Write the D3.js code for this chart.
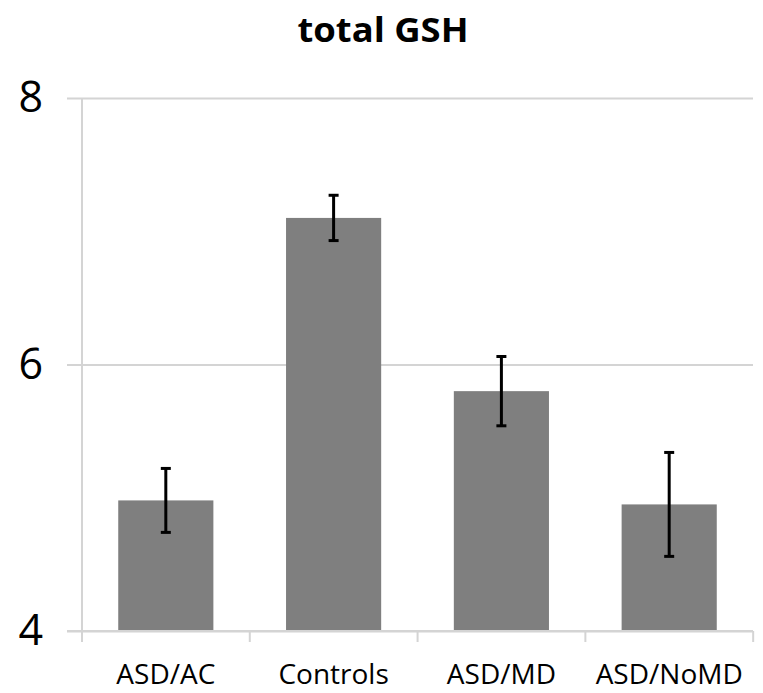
<!DOCTYPE html>
<html>
<head>
<meta charset="utf-8">
<script src="https://cdn.jsdelivr.net/npm/d3@7"></script>
<style>
  body { margin: 0; background: #fff; }
  svg { display: block; }
</style>
</head>
<body>
<svg id="chart" width="763" height="693"></svg>
<script>
// data
let groups = ['ASD/AC', 'Controls', 'ASD/MD', 'ASD/NoMD'];
let means = [4.98, 7.10, 5.80, 4.95];
let errs = [0.24, 0.17, 0.26, 0.39];
let yTicks = [4, 6, 8];

let svg = d3.select('#chart');
let font = '"Open Sans", sans-serif';

let xScale = d3.scaleBand()
	.domain(groups)
	.range([82, 753])
	.paddingInner(0.433)
	.paddingOuter(0.216);

let yScale = d3.scaleLinear()
	.domain([4, 8])
	.range([631, 98]);

// title
svg.append('text')
	.attr('x', 383)
	.attr('y', 42)
	.attr('text-anchor', 'middle')
	.attr('textLength', 171)
	.attr('lengthAdjust', 'spacingAndGlyphs')
	.style('font-family', font)
	.style('font-weight', 'bold')
	.style('font-size', '34px')
	.text('total GSH');

// y axis with gridlines
let yAxis = svg.append('g')
	.attr('transform', 'translate(82, 0)')
	.call(d3.axisLeft(yScale)
		.tickValues(yTicks)
		.tickFormat(d3.format('d'))
		.tickSize(-(753 - 82))
		.tickSizeOuter(0)
		.tickPadding(39))
yAxis.select('.domain').remove();
yAxis.selectAll('.tick line')
	.attr('x1', -15)
	.attr('stroke', '#d4d4d4')
	.attr('stroke-width', 2);
yAxis.selectAll('.tick text')
	.style('font-family', font)
	.style('font-size', '43px')
	.attr('fill', '#000');

// vertical axis line
svg.append('line')
	.attr('x1', 82).attr('x2', 82)
	.attr('y1', yScale(8)).attr('y2', yScale(4))
	.attr('stroke', '#d4d4d4')
	.attr('stroke-width', 2);

// bars
svg.append('g')
	.selectAll('rect')
	.data(groups)
	.enter()
	.append('rect')
		.attr('x', d => xScale(d))
		.attr('y', (d, i) => yScale(means[i]))
		.attr('width', xScale.bandwidth())
		.attr('height', (d, i) => yScale(4) - yScale(means[i]))
		.attr('fill', '#7f7f7f');

// x axis: labels + boundary ticks
let xAxis = svg.append('g')
	.attr('transform', 'translate(0, ' + yScale(4) + ')')
	.call(d3.axisBottom(xScale).tickSize(0).tickPadding(33));
xAxis.select('.domain').remove();
xAxis.selectAll('.tick text')
	.style('font-family', font)
	.style('font-size', '28px')
	.attr('fill', '#000');

let bounds = d3.range(groups.length + 1).map(i => 82 + i * xScale.step());
svg.append('line')
	.attr('x1', 67).attr('x2', 753)
	.attr('y1', yScale(4)).attr('y2', yScale(4))
	.attr('stroke', '#d4d4d4')
	.attr('stroke-width', 2);
svg.append('g')
	.selectAll('line')
	.data(bounds)
	.enter()
	.append('line')
		.attr('x1', d => d).attr('x2', d => d)
		.attr('y1', yScale(4)).attr('y2', yScale(4) + 11)
		.attr('stroke', '#d4d4d4')
		.attr('stroke-width', 2);

// error bars
let eb = svg.append('g')
	.selectAll('g')
	.data(groups)
	.enter()
	.append('g')
	.attr('stroke', '#000')
	.attr('stroke-width', 3);
let cx = d => xScale(d) + xScale.bandwidth() / 2;
eb.append('line')
	.attr('x1', cx).attr('x2', cx)
	.attr('y1', (d, i) => yScale(means[i] + errs[i]))
	.attr('y2', (d, i) => yScale(means[i] - errs[i]));
eb.append('line')
	.attr('x1', d => cx(d) - 5).attr('x2', d => cx(d) + 5)
	.attr('y1', (d, i) => yScale(means[i] + errs[i]))
	.attr('y2', (d, i) => yScale(means[i] + errs[i]));
eb.append('line')
	.attr('x1', d => cx(d) - 5).attr('x2', d => cx(d) + 5)
	.attr('y1', (d, i) => yScale(means[i] - errs[i]))
	.attr('y2', (d, i) => yScale(means[i] - errs[i]));
</script>
</body>
</html>
